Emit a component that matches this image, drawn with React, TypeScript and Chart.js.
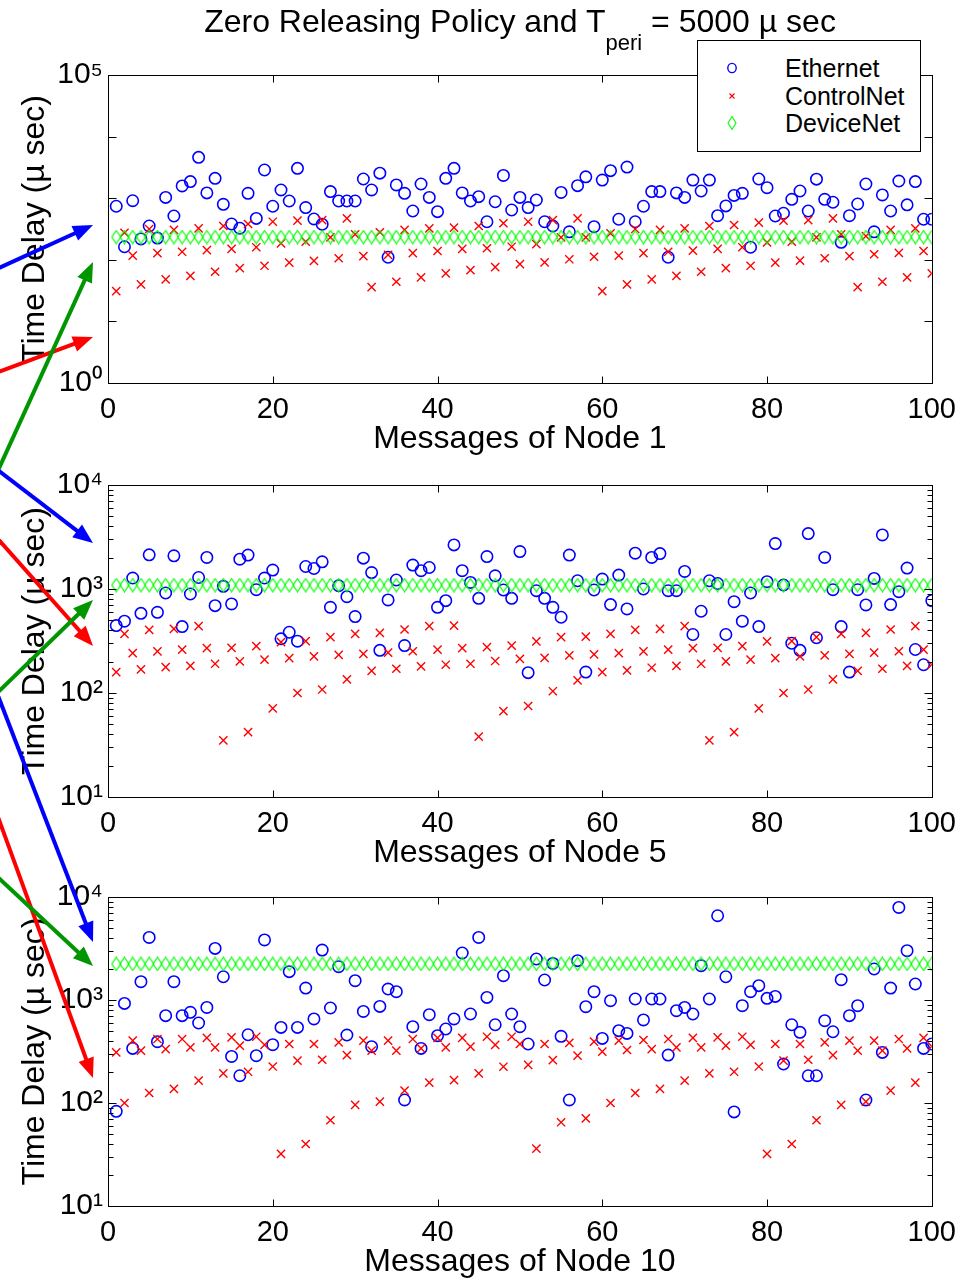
import React, { useEffect, useRef } from 'react';
import { Chart, registerables } from 'chart.js';

Chart.register(...registerables);

const FONT = '"Liberation Sans", Arial, Helvetica, sans-serif';

// ---------------- data ----------------
const xTicks = [0, 20, 40, 60, 80, 100];

const yTicksNode1 = [1, 10, 100, 1000, 10000, 100000];
const yLabelsNode1: Record<number, string> = { 1: '10⁰', 100000: '10⁵' };

const yTicksDecades = [
  10, 20, 30, 40, 50, 60, 70, 80, 90,
  100, 200, 300, 400, 500, 600, 700, 800, 900,
  1000, 2000, 3000, 4000, 5000, 6000, 7000, 8000, 9000, 10000,
];
const yLabelsDecades: Record<number, string> = { 10: '10¹', 100: '10²', 1000: '10³', 10000: '10⁴' };

const ethernetNode1 = [
  740, 163, 910, 218, 354, 225, 1030, 514, 1580, 1860,
  4600, 1220, 2100, 795, 381, 325, 1200, 470, 2870, 740,
  1360, 900, 3050, 705, 460, 378, 1280, 900, 900, 900,
  2050, 1360, 2550, 110, 1640, 1200, 620, 1700, 1030, 605,
  2100, 3050, 1220, 900, 1060, 415, 875, 2340, 643, 1030,
  705, 935, 415, 354, 1240, 285, 1600, 2220, 345, 1970,
  2800, 455, 3200, 415, 740, 1280, 1280, 110, 1220, 1030,
  1970, 1310, 1970, 520, 750, 1110, 1200, 160, 2050, 1480,
  514, 570, 960, 1310, 620, 2040, 960, 860, 192, 520,
  805, 1700, 285, 1130, 620, 1900, 780, 1860, 455, 455,
];
const controlNetNode1 = [
  31, 275, 117, 40, 316, 128, 48, 305, 135, 55,
  324, 144, 64, 354, 150, 73, 381, 160, 80, 415,
  185, 90, 431, 197, 96, 442, 232, 106, 472, 259,
  115, 36, 280, 120, 44, 305, 128, 52, 324, 139,
  60, 332, 150, 68, 354, 154, 76, 392, 163, 85,
  415, 180, 91, 442, 232, 102, 472, 232, 112, 31,
  269, 117, 40, 316, 128, 48, 305, 135, 55, 324,
  141, 64, 354, 150, 73, 367, 160, 80, 400, 192,
  90, 431, 197, 97, 442, 232, 106, 472, 259, 115,
  36, 243, 123, 44, 305, 130, 52, 324, 139, 60,
];
const deviceNetNode1 = [
  234, 234, 234, 234, 234, 234, 234, 234, 234, 234,
  234, 234, 234, 234, 234, 234, 234, 234, 234, 234,
  234, 234, 234, 234, 234, 234, 234, 234, 234, 234,
  234, 234, 234, 234, 234, 234, 234, 234, 234, 234,
  234, 234, 234, 234, 234, 234, 234, 234, 234, 234,
  234, 234, 234, 234, 234, 234, 234, 234, 234, 234,
  234, 234, 234, 234, 234, 234, 234, 234, 234, 234,
  234, 234, 234, 234, 234, 234, 234, 234, 234, 234,
  234, 234, 234, 234, 234, 234, 234, 234, 234, 234,
  234, 234, 234, 234, 234, 234, 234, 234, 234, 234,
];

const ethernetNode5 = [
  445, 490, 1275, 583, 2130, 597, 915, 2085, 435, 895,
  1290, 2010, 692, 1060, 718, 1935, 2120, 985, 1275, 1520,
  332, 384, 315, 1645, 1575, 1825, 667, 1075, 844, 543,
  1980, 1440, 257, 785, 1220, 286, 1700, 1500, 1610, 667,
  773, 2655, 1500, 1157, 813, 2050, 1340, 978, 813, 2290,
  157, 963, 813, 667, 535, 2120, 1200, 159, 978, 1247,
  708, 1360, 643, 2210, 1000, 2010, 2190, 963, 963, 1475,
  365, 611, 1200, 1130, 365, 755, 490, 915, 435, 1175,
  2735, 1092, 301, 257, 3410, 340, 2010, 985, 435, 159,
  985, 703, 1265, 3310, 708, 942, 1590, 262, 187, 773,
];
const controlNetNode5 = [
  159, 371, 242, 169, 405, 251, 177, 414, 261, 182,
  439, 270, 191, 35, 272, 201, 42, 282, 209, 71,
  308, 216, 100, 315, 225, 108, 344, 233, 135, 371,
  238, 163, 379, 244, 171, 408, 252, 180, 439, 261,
  187, 445, 270, 191, 38, 276, 203, 67, 286, 213,
  75, 313, 218, 104, 344, 230, 132, 349, 235, 159,
  371, 242, 165, 405, 251, 175, 414, 261, 182, 439,
  270, 191, 35, 272, 201, 42, 282, 209, 71, 313,
  216, 100, 315, 225, 108, 344, 230, 135, 371, 238,
  163, 379, 244, 171, 408, 252, 182, 439, 261, 187,
];
const deviceNetNode5 = [
  1090, 1090, 1090, 1090, 1090, 1090, 1090, 1090, 1090, 1090,
  1090, 1090, 1090, 1090, 1090, 1090, 1090, 1090, 1090, 1090,
  1090, 1090, 1090, 1090, 1090, 1090, 1090, 1090, 1090, 1090,
  1090, 1090, 1090, 1090, 1090, 1090, 1090, 1090, 1090, 1090,
  1090, 1090, 1090, 1090, 1090, 1090, 1090, 1090, 1090, 1090,
  1090, 1090, 1090, 1090, 1090, 1090, 1090, 1090, 1090, 1090,
  1090, 1090, 1090, 1090, 1090, 1090, 1090, 1090, 1090, 1090,
  1090, 1090, 1090, 1090, 1090, 1090, 1090, 1090, 1090, 1090,
  1090, 1090, 1090, 1090, 1090, 1090, 1090, 1090, 1090, 1090,
  1090, 1090, 1090, 1090, 1090, 1090, 1090, 1090, 1090, 1090,
];

const ethernetNode10 = [
  83, 927, 339, 1505, 4050, 394, 705, 1505, 705, 759,
  598, 847, 3170, 1682, 283, 184, 460, 288, 3830, 368,
  542, 1885, 542, 1306, 655, 3055, 836, 2105, 457, 1540,
  774, 352, 867, 1278, 1204, 107, 551, 339, 720, 450,
  523, 655, 2860, 731, 4050, 1060, 575, 1722, 731, 551,
  374, 2500, 1563, 2265, 444, 107, 2410, 861, 1204, 424,
  985, 504, 474, 1023, 640, 1023, 1023, 292, 787, 847,
  731, 2153, 1023, 6580, 1682, 82, 880, 1204, 1378, 1037,
  1084, 239, 575, 485, 184, 184, 630, 492, 1575, 705,
  880, 107, 2000, 310, 1306, 7920, 3010, 1430, 339, 374,
];
const controlNetNode10 = [
  310, 100, 403, 322, 125, 418, 334, 137, 418, 347,
  165, 428, 347, 194, 434, 360, 201, 440, 366, 226,
  32, 374, 258, 40, 374, 263, 68, 387, 292, 96,
  403, 322, 103, 403, 322, 132, 418, 339, 158, 428,
  347, 167, 428, 352, 194, 440, 366, 225, 440, 374,
  234, 36, 374, 261, 65, 383, 288, 71, 394, 315,
  100, 403, 327, 125, 409, 334, 137, 418, 347, 165,
  428, 347, 194, 434, 360, 201, 440, 366, 226, 32,
  374, 258, 40, 374, 263, 68, 387, 292, 96, 403,
  322, 103, 403, 322, 132, 418, 339, 158, 428, 355,
];
const deviceNetNode10 = [
  2240, 2240, 2240, 2240, 2240, 2240, 2240, 2240, 2240, 2240,
  2240, 2240, 2240, 2240, 2240, 2240, 2240, 2240, 2240, 2240,
  2240, 2240, 2240, 2240, 2240, 2240, 2240, 2240, 2240, 2240,
  2240, 2240, 2240, 2240, 2240, 2240, 2240, 2240, 2240, 2240,
  2240, 2240, 2240, 2240, 2240, 2240, 2240, 2240, 2240, 2240,
  2240, 2240, 2240, 2240, 2240, 2240, 2240, 2240, 2240, 2240,
  2240, 2240, 2240, 2240, 2240, 2240, 2240, 2240, 2240, 2240,
  2240, 2240, 2240, 2240, 2240, 2240, 2240, 2240, 2240, 2240,
  2240, 2240, 2240, 2240, 2240, 2240, 2240, 2240, 2240, 2240,
  2240, 2240, 2240, 2240, 2240, 2240, 2240, 2240, 2240, 2240,
];

// ---------------- annotation arrows (pixel overlay) ----------------
const ANNOTATION_ARROWS = [
  { color: '#0000ff', from: [-10, 272], to: [93, 225] },
  { color: '#ff0000', from: [-10, 375], to: [93, 337] },
  { color: '#009600', from: [-10, 488], to: [93, 262] },
  { color: '#0000ff', from: [-10, 464], to: [93, 543] },
  { color: '#ff0000', from: [-10, 530], to: [93, 646] },
  { color: '#009600', from: [-10, 700], to: [93, 600] },
  { color: '#0000ff', from: [-10, 675], to: [93, 942] },
  { color: '#ff0000', from: [-10, 795], to: [93, 1078] },
  { color: '#009600', from: [-10, 870], to: [93, 966] },
];

// ---------------- helpers ----------------
const toPoints = (vals: number[]) => vals.map((v, i) => ({ x: i + 1, y: v }));

const isDecade = (v: number) => Math.abs(Math.log10(v) - Math.round(Math.log10(v))) < 1e-9;

function makeDiamond(): HTMLCanvasElement {
  const c = document.createElement('canvas');
  c.width = 11;
  c.height = 15;
  const ctx = c.getContext('2d')!;
  ctx.strokeStyle = '#00ff00';
  ctx.lineWidth = 1.2;
  ctx.beginPath();
  ctx.moveTo(5.5, 1);
  ctx.lineTo(10, 7.5);
  ctx.lineTo(5.5, 14);
  ctx.lineTo(1, 7.5);
  ctx.closePath();
  ctx.stroke();
  return c;
}

const matlabFrame = {
  id: 'matlabFrame',
  afterDatasetsDraw(chart: any) {
    const { ctx, chartArea: a, scales } = chart;
    const xs = scales.x;
    const ys = scales.y;
    const L = Math.round(a.left) + 0.5;
    const R = Math.round(a.right) + 0.5;
    const T = Math.round(a.top) + 0.5;
    const B = Math.round(a.bottom) + 0.5;
    ctx.save();
    ctx.strokeStyle = '#000';
    ctx.lineWidth = 1;
    ctx.beginPath();
    xs.ticks.forEach((t: any) => {
      const px = Math.round(xs.getPixelForValue(t.value)) + 0.5;
      ctx.moveTo(px, B);
      ctx.lineTo(px, B - 7);
      ctx.moveTo(px, T);
      ctx.lineTo(px, T + 7);
    });
    ys.ticks.forEach((t: any) => {
      const len = isDecade(t.value) ? 8 : 5;
      const py = Math.round(ys.getPixelForValue(t.value)) + 0.5;
      ctx.moveTo(L, py);
      ctx.lineTo(L + len, py);
      ctx.moveTo(R, py);
      ctx.lineTo(R - len, py);
    });
    ctx.stroke();
    ctx.strokeRect(L, T, R - L, B - T);
    ctx.restore();
  },
};

interface PlotSpec {
  top: number;
  height: number;
  padTop: number;
  xTitle: string;
  yMin: number;
  yMax: number;
  yTicks: number[];
  yLabels: Record<number, string>;
  ethernet: number[];
  controlNet: number[];
  deviceNet: number[];
}

const PLOTS: PlotSpec[] = [
  {
    top: 0, height: 458, padTop: 75, xTitle: 'Messages of Node 1',
    yMin: 1, yMax: 100000, yTicks: yTicksNode1, yLabels: yLabelsNode1,
    ethernet: ethernetNode1, controlNet: controlNetNode1, deviceNet: deviceNetNode1,
  },
  {
    top: 460, height: 412, padTop: 25, xTitle: 'Messages of Node 5',
    yMin: 10, yMax: 10000, yTicks: yTicksDecades, yLabels: yLabelsDecades,
    ethernet: ethernetNode5, controlNet: controlNetNode5, deviceNet: deviceNetNode5,
  },
  {
    top: 872, height: 409, padTop: 25, xTitle: 'Messages of Node 10',
    yMin: 10, yMax: 10000, yTicks: yTicksDecades, yLabels: yLabelsDecades,
    ethernet: ethernetNode10, controlNet: controlNetNode10, deviceNet: deviceNetNode10,
  },
];

function SubPlot({ spec }: { spec: PlotSpec }) {
  const ref = useRef<HTMLCanvasElement>(null);
  useEffect(() => {
    if (!ref.current) return;
    const diamond = makeDiamond();
    const chart = new Chart(ref.current, {
      type: 'scatter',
      data: {
        datasets: [
          {
            label: 'DeviceNet',
            data: toPoints(spec.deviceNet),
            pointStyle: diamond as any,
            pointRadius: 6,
            borderColor: '#00ff00',
            backgroundColor: 'rgba(0,0,0,0)',
            order: 0,
          },
          {
            label: 'ControlNet',
            data: toPoints(spec.controlNet),
            pointStyle: 'crossRot',
            pointRadius: 5.8,
            borderWidth: 1.4,
            borderColor: '#ff0000',
            backgroundColor: 'rgba(0,0,0,0)',
            order: 1,
          },
          {
            label: 'Ethernet',
            data: toPoints(spec.ethernet),
            pointStyle: 'circle',
            pointRadius: 5.7,
            borderWidth: 1.6,
            borderColor: '#0000ff',
            backgroundColor: 'rgba(0,0,0,0)',
            order: 2,
          },
        ],
      },
      options: {
        responsive: false,
        animation: false,
        devicePixelRatio: 1,
        events: [],
        layout: { padding: { top: spec.padTop, right: 34, left: 0, bottom: 0 } },
        plugins: {
          legend: { display: false },
          tooltip: { enabled: false },
          title: { display: false },
        },
        scales: {
          x: {
            type: 'linear',
            min: 0,
            max: 100,
            afterBuildTicks: (s: any) => {
              s.ticks = xTicks.map((v) => ({ value: v }));
            },
            afterFit: (s: any) => {
              s.height = 75;
            },
            ticks: {
              font: { family: FONT, size: 29 },
              color: '#000',
              padding: 10,
              maxRotation: 0,
              autoSkip: false,
            },
            grid: { display: false, drawTicks: false },
            border: { display: false },
            title: {
              display: true,
              text: spec.xTitle,
              color: '#000',
              font: { family: FONT, size: 32 },
              padding: 0,
            },
          },
          y: {
            type: 'logarithmic',
            min: spec.yMin,
            max: spec.yMax,
            afterBuildTicks: (s: any) => {
              s.ticks = spec.yTicks.map((v) => ({ value: v }));
            },
            afterFit: (s: any) => {
              s.width = 108;
            },
            ticks: {
              callback: (v: any) => spec.yLabels[Number(v)] ?? '',
              font: { family: FONT, size: 30 },
              color: '#000',
              padding: 5,
              autoSkip: false,
            },
            grid: { display: false, drawTicks: false },
            border: { display: false },
            title: {
              display: true,
              text: 'Time Delay (µ sec)',
              color: '#000',
              font: { family: FONT, size: 32 },
              padding: { top: 16, bottom: 0 },
            },
          },
        },
      } as any,
      plugins: [matlabFrame],
    });
    return () => chart.destroy();
  }, [spec]);
  return (
    <canvas
      ref={ref}
      width={966}
      height={spec.height}
      style={{ position: 'absolute', left: 0, top: spec.top, width: 966, height: spec.height }}
    />
  );
}

function Arrow({ color, from, to }: { color: string; from: number[]; to: number[] }) {
  const dx = to[0] - from[0];
  const dy = to[1] - from[1];
  const len = Math.sqrt(dx * dx + dy * dy);
  const ux = dx / len;
  const uy = dy / len;
  const headLen = 20;
  const headHalf = 8;
  const bx = to[0] - ux * headLen;
  const by = to[1] - uy * headLen;
  const p1 = `${to[0]},${to[1]}`;
  const p2 = `${bx - uy * headHalf},${by + ux * headHalf}`;
  const p3 = `${bx + uy * headHalf},${by - ux * headHalf}`;
  return (
    <g>
      <line x1={from[0]} y1={from[1]} x2={bx + ux * 2} y2={by + uy * 2} stroke={color} strokeWidth={4} />
      <polygon points={`${p1} ${p2} ${p3}`} fill={color} />
    </g>
  );
}

export default function App() {
  return (
    <div
      style={{
        position: 'absolute',
        left: 0,
        top: 0,
        width: 966,
        height: 1285,
        background: '#fff',
        overflow: 'hidden',
        fontFamily: FONT,
      }}
    >
      {PLOTS.map((p, i) => (
        <SubPlot key={i} spec={p} />
      ))}
      <div
        style={{
          position: 'absolute',
          left: 108,
          width: 824,
          top: 3,
          textAlign: 'center',
          fontSize: 32,
          lineHeight: '36px',
          whiteSpace: 'nowrap',
          color: '#000',
        }}
      >
        Zero Releasing Policy and T
        <span style={{ fontSize: 22, position: 'relative', top: 18 }}>peri</span> = 5000 µ sec
      </div>
      <div
        style={{
          position: 'absolute',
          left: 697,
          top: 40,
          width: 222,
          height: 110,
          border: '1px solid #000',
          background: '#fff',
        }}
      >
        {[
          { label: 'Ethernet', cy: 27, kind: 'o' },
          { label: 'ControlNet', cy: 55, kind: 'x' },
          { label: 'DeviceNet', cy: 82, kind: 'd' },
        ].map((it) => (
          <React.Fragment key={it.label}>
            <svg
              width={16}
              height={16}
              style={{ position: 'absolute', left: 26, top: it.cy - 8 }}
            >
              {it.kind === 'o' && <ellipse cx={8} cy={8} rx={4.2} ry={4.6} fill="none" stroke="#0000ff" strokeWidth={1.4} />}
              {it.kind === 'x' && (
                <path d="M5.5 5.5 L10.5 10.5 M10.5 5.5 L5.5 10.5" stroke="#ff0000" strokeWidth={1.1} />
              )}
              {it.kind === 'd' && <path d="M8 1.5 L12 8 L8 14.5 L4 8 Z" fill="none" stroke="#00ff00" strokeWidth={1.1} />}
            </svg>
            <div
              style={{
                position: 'absolute',
                left: 87,
                top: it.cy - 14,
                fontSize: 25,
                lineHeight: '28px',
                color: '#000',
                whiteSpace: 'nowrap',
              }}
            >
              {it.label}
            </div>
          </React.Fragment>
        ))}
      </div>
      <svg
        width={966}
        height={1285}
        style={{ position: 'absolute', left: 0, top: 0, pointerEvents: 'none' }}
      >
        {ANNOTATION_ARROWS.map((a, i) => (
          <Arrow key={i} color={a.color} from={a.from} to={a.to} />
        ))}
      </svg>
    </div>
  );
}
